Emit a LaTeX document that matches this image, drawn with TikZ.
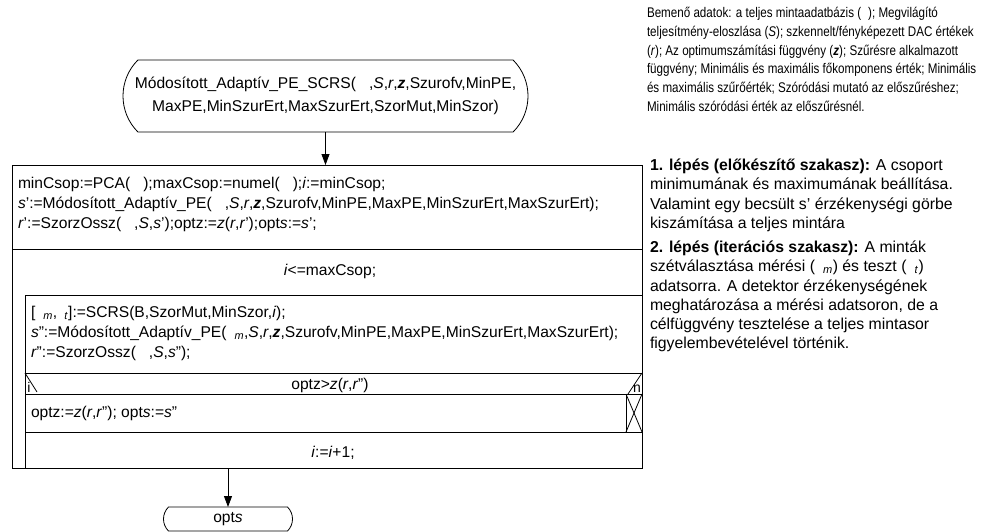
\documentclass[tikz,border=0pt]{standalone}
\usepackage{fontspec}
\setmainfont{Liberation Sans}
\newfontfamily\narrowfont{Liberation Sans}[FakeStretch=0.83]
\usetikzlibrary{arrows.meta,shapes.misc}
\newcommand{\zz}{\textbf{\textit{z}}}
\newcommand{\gap}{\hspace{13pt}}
\begin{document}
\begin{tikzpicture}[x=1pt,y=-1pt,
  every node/.style={inner sep=0pt, outer sep=0pt},
  mainfont/.style={font=\fontsize{15.6}{20}\selectfont},
  txt/.style={mainfont, anchor=base west},
  ctxt/.style={mainfont, anchor=base},
  note/.style={font=\narrowfont\fontsize{14}{19}\selectfont, anchor=base west},
  stepnote/.style={font=\fontsize{15.8}{19}\selectfont, anchor=base west},
  ln/.style={line width=0.8pt},
  box/.style={draw, ln},
  term/.style={draw, ln, rounded rectangle, rounded rectangle arc length=90},
  flow/.style={ln, -{Triangle[length=11pt,width=8pt]}}
]
\useasboundingbox (0,0) rectangle (984,531);

% start terminal
\node[term, minimum width=405, minimum height=72, align=center,
      font=\fontsize{15.6}{23}\selectfont] (start) at (325.5,96)
  {Módosított\_Adaptív\_PE\_SCRS(\gap,\textit{S},\textit{r},\zz,Szurofv,MinPE,\\MaxPE,MinSzurErt,MaxSzurErt,SzorMut,MinSzor)};

% main NS block
\node[box, minimum width=630, minimum height=303, anchor=north west] (main) at (12,165) {};
\draw[flow] (start.south) -- (start.south |- main.north);

% structure lines
\draw[ln] (12,249) -- (642,249);
\draw[ln] (25,295) -- (642,295);
\draw[ln] (25,295) -- (25,468);
\draw[ln] (25,373) -- (642,373);
\draw[ln] (25,394) -- (642,394);
\draw[ln] (25,432) -- (642,432);
\draw[ln] (25,373) -- (37,392);
\draw[ln] (642,373) -- (628,394);
\draw[ln] (626,394) -- (626,432);
\draw[ln] (626,394) -- (642,432);
\draw[ln] (642,394) -- (626,432);

% step 1
\node[txt] (s1a) at (18,188) {minCsop:=PCA(\gap);maxCsop:=numel(\gap);\textit{i}:=minCsop;};
\node[txt] (s1b) at (18,208) {\textit{s}':=Módosított\_Adaptív\_PE(\gap,\textit{S},\textit{r},\zz,Szurofv,MinPE,MaxPE,MinSzurErt,MaxSzurErt);};
\node[txt] (s1c) at (18,228) {\textit{r}':=SzorzOssz(\gap,\textit{S},\textit{s}');optz:=\textit{z}(\textit{r},\textit{r}');opt\textit{s}:=\textit{s}';};

% loop condition
\node[ctxt] (cond) at (330,275) {\textit{i}<=maxCsop;};

% loop body
\node[txt] (b1) at (31,317) {[\hspace{8pt}\textsubscript{\textit{m}},\hspace{7pt}\textsubscript{\textit{t}}]:=SCRS(B,SzorMut,MinSzor,\textit{i});};
\node[txt] (b2) at (31,337) {\textit{s}'':=Módosított\_Adaptív\_PE(\hspace{8pt}\textsubscript{\textit{m}},\textit{S},\textit{r},\zz,Szurofv,MinPE,MaxPE,MinSzurErt,MaxSzurErt);};
\node[txt] (b3) at (31,357) {\textit{r}'':=SzorzOssz(\gap,\textit{S},\textit{s}'');};

% if
\node[ctxt] (ifc) at (330,389) {optz>\textit{z}(\textit{r},\textit{r}'')};
\node[font=\fontsize{14}{14}\selectfont, anchor=base] (yes) at (29,392) {i};
\node[font=\fontsize{14}{14}\selectfont, anchor=base] (no) at (637,392) {n};
\node[txt] (then) at (31,417) {optz:=\textit{z}(\textit{r},\textit{r}''); opt\textit{s}:=\textit{s}''};

% increment
\node[ctxt] (inc) at (333,457) {\textit{i}:=\textit{i}+1;};

% end terminal
\node[term, minimum width=129, minimum height=24, font=\fontsize{15.6}{18}\selectfont] (opts) at (228,519) {opt\textit{s}};
\draw[flow] (opts.north |- main.south) -- (opts.north);

% notes top
\node[note] (n1) at (647,17) {Bemenő adatok: a teljes mintaadatbázis (\hspace{7pt}); Megvilágító};
\node[note] (n2) at (647,36) {teljesítmény-eloszlása (\textit{S}); szkennelt/fényképezett DAC értékek};
\node[note] (n3) at (647,55) {(\textit{r}); Az optimumszámítási függvény (\zz); Szűrésre alkalmazott};
\node[note] (n4) at (647,73) {függvény; Minimális és maximális főkomponens érték; Minimális};
\node[note] (n5) at (647,92) {és maximális szűrőérték; Szóródási mutató az előszűréshez;};
\node[note] (n6) at (647,111) {Minimális szóródási érték az előszűrésnél.};

% step 1 notes
\node[stepnote] (p1) at (650,170) {\textbf{1. lépés (előkészítő szakasz):} A csoport};
\node[stepnote] (p2) at (650,189) {minimumának és maximumának beállítása.};
\node[stepnote] (p3) at (650,209) {Valamint egy becsült s’ érzékenységi görbe};
\node[stepnote] (p4) at (650,228) {kiszámítása a teljes mintára};

% step 2 notes
\node[stepnote] (q1) at (650,252) {\textbf{2. lépés (iterációs szakasz):} A minták};
\node[stepnote] (q2) at (650,271) {szétválasztása mérési (\hspace{8pt}\textsubscript{\textit{m}}) és teszt (\hspace{8pt}\textsubscript{\textit{t}})};
\node[stepnote] (q3) at (650,291) {adatsorra. A detektor érzékenységének};
\node[stepnote] (q4) at (650,310) {meghatározása a mérési adatsoron, de a};
\node[stepnote] (q5) at (650,329) {célfüggvény tesztelése a teljes mintasor};
\node[stepnote] (q6) at (650,348) {figyelembevételével történik.};
\end{tikzpicture}
\end{document}
